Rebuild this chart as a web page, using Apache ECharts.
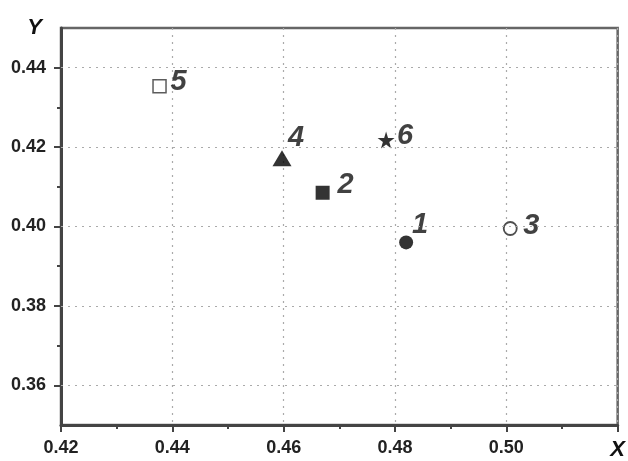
<!DOCTYPE html>
<html>
<head>
<meta charset="utf-8">
<script src="https://cdn.jsdelivr.net/npm/echarts@6/dist/echarts.min.js"></script>
<style>
  html, body { margin: 0; padding: 0; background: #fff; }
  #chart { width: 628px; height: 461px; }
</style>
</head>
<body>
<div id="chart"></div>
<script>
// point data
const pointNames = ['1', '2', '3', '4', '5', '6'];
const xValues = [0.482, 0.467, 0.5007, 0.4597, 0.4377, 0.4784];
const yValues = [0.396, 0.4085, 0.3995, 0.4172, 0.4353, 0.4218];

// axis ticks
const yMajorTicks = [0.36, 0.38, 0.40, 0.42, 0.44];
const yMinorTicks = [0.37, 0.39, 0.41, 0.43];

// marker look per point
const starPath = 'path://M50,0 L61,35 L98,35 L68,57 L79,91 L50,70 L21,91 L32,57 L2,35 L39,35 Z';
const markerStyles = [
    { symbol: 'circle', symbolSize: 14, itemStyle: { color: '#000' } },
    { symbol: 'rect', symbolSize: 14, itemStyle: { color: '#000' } },
    { symbol: 'circle', symbolSize: 13, itemStyle: { color: '#fff', borderColor: '#222', borderWidth: 1.8 } },
    { symbol: 'triangle', symbolSize: [19, 16], itemStyle: { color: '#000' } },
    { symbol: 'rect', symbolSize: 13, itemStyle: { color: '#fff', borderColor: '#333', borderWidth: 1.5 } },
    { symbol: starPath, symbolSize: 17, itemStyle: { color: '#000' } }
];
const labelOffsets = [[14, -17], [23, -8], [21, -2], [14, -20], [19, -4], [19, -4]];

const axisColor = '#444';
const labelFont = { fontFamily: 'Liberation Sans', fontWeight: 'bold', fontSize: 18, color: '#222' };

const points = xValues.map((x, i) => ({
    value: [x, yValues[i]],
    name: pointNames[i],
    symbol: markerStyles[i].symbol,
    symbolSize: markerStyles[i].symbolSize,
    itemStyle: markerStyles[i].itemStyle,
    label: { offset: labelOffsets[i] }
}));

const chart = echarts.init(document.getElementById('chart'));
chart.setOption({
    animation: false,
    grid: {
        left: 61, right: 5, top: 28, bottom: 27,
        show: true, borderColor: '#666', borderWidth: 2.5, backgroundColor: 'transparent'
    },
    xAxis: {
        type: 'value',
        min: 0.42, max: 0.52, interval: 0.02,
        name: 'X',
        nameLocation: 'end',
        nameGap: 0,
        nameTextStyle: {
            fontFamily: 'Liberation Sans', fontWeight: 'bold', fontStyle: 'italic',
            fontSize: 22, color: '#111', align: 'center', verticalAlign: 'top', padding: [14, 0, 0, 0]
        },
        axisLine: { lineStyle: { color: axisColor, width: 3 } },
        axisTick: { length: 7, lineStyle: { color: axisColor, width: 2 } },
        minorTick: { show: true, splitNumber: 2, length: 4, lineStyle: { color: axisColor, width: 2 } },
        axisLabel: Object.assign({ margin: 14, showMaxLabel: false, formatter: v => v.toFixed(2) }, labelFont),
        splitLine: { show: true, lineStyle: { color: '#aaa', type: [2, 5], width: 1.2 } }
    },
    yAxis: [
        {
            type: 'value',
            min: 0.35, max: 0.45,
            name: 'Y',
            nameLocation: 'end',
            nameGap: 0,
            nameTextStyle: {
                fontFamily: 'Liberation Sans', fontWeight: 'bold', fontStyle: 'italic',
                fontSize: 22, color: '#111', align: 'right', verticalAlign: 'middle', padding: [0, 19, 0, 0]
            },
            axisLine: { show: true, lineStyle: { color: axisColor, width: 3 } },
            axisTick: { show: true, customValues: yMajorTicks, length: 7, lineStyle: { color: axisColor, width: 2 } },
            axisLabel: Object.assign({ margin: 15, customValues: yMajorTicks, formatter: v => v.toFixed(2) }, labelFont),
            splitLine: { show: false }
        },
        {
            type: 'value',
            min: 0.35, max: 0.45,
            position: 'left',
            axisLine: { show: false },
            axisTick: { show: true, customValues: yMinorTicks, length: 4, lineStyle: { color: axisColor, width: 2 } },
            axisLabel: { show: false },
            splitLine: { show: false }
        }
    ],
    series: [{
        type: 'scatter',
        data: points,
        label: {
            show: true,
            position: 'inside',
            formatter: p => p.name,
            fontFamily: 'Liberation Sans',
            fontWeight: 'bold',
            fontStyle: 'italic',
            fontSize: 29,
            color: '#111'
        },
        markLine: {
            silent: true,
            symbol: 'none',
            label: { show: false },
            lineStyle: { color: '#aaa', type: [2, 5], width: 1.2 },
            data: yMajorTicks.map(v => ({ yAxis: v }))
        },
        z: 3
    }]
});
</script>
</body>
</html>
